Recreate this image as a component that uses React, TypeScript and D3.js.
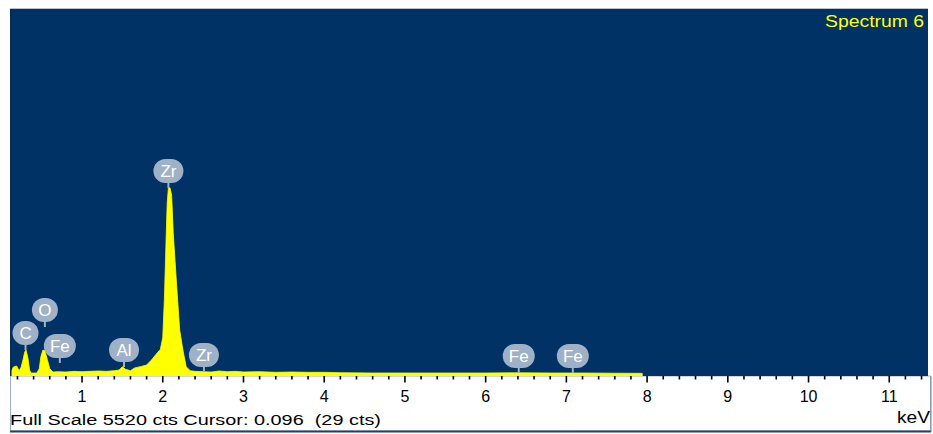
import React from "react";
import * as d3 from "d3";

// Spectrum: energy (keV) and counts
const energyKeV = [
  0.12, 0.15, 0.19, 0.22, 0.245, 0.27, 0.29, 0.306, 0.33, 0.35, 0.37, 0.44, 0.47, 0.49, 0.515, 0.54, 0.57, 0.6, 0.64,
  0.7, 0.8, 0.9, 1.0, 1.1, 1.2, 1.3, 1.4, 1.46, 1.5, 1.54, 1.6, 1.65, 1.72, 1.8, 1.86, 1.92, 1.97, 2.0, 2.02, 2.04,
  2.055, 2.07, 2.09, 2.11, 2.13, 2.17, 2.21, 2.25, 2.29, 2.34, 2.4, 2.5, 2.6, 2.7, 2.8, 2.9, 3.0, 3.2, 3.4, 3.6, 3.8,
  4.0, 4.2, 4.6, 5.0, 5.5, 6.0, 6.4, 6.8, 7.2, 7.6, 7.94,
];
const counts = [
  60, 135, 150, 80, 130, 250, 360, 390, 270, 90, 45, 45, 110, 290, 390, 380, 250, 110, 60,
  65, 60, 70, 65, 70, 75, 70, 80, 90, 140, 100, 80, 120, 140, 165, 240, 330, 400, 580, 1150, 2000,
  2600, 2830, 2830, 2720, 2150, 1400, 690, 390, 140, 80, 70, 65, 60, 75, 65, 70, 60, 65, 55, 60, 55,
  55, 50, 45, 45, 45, 45, 48, 45, 45, 42, 40,
];

// Element labels
const labelNames = ["C", "O", "Fe", "Al", "Zr", "Zr", "Fe", "Fe"];
const labelKeV = [0.3, 0.54, 0.725, 1.52, 2.07, 2.51, 6.41, 7.08];
const labelCounts = [391, 737, 196, 135, 2828, 60, 45, 45];

const xTicks = [1, 2, 3, 4, 5, 6, 7, 8, 9, 10, 11];
const fullScale = 5520;

export default function App() {
  const W = 933, H = 434;
  const left = 11, right = 928, top = 9, bottom = 376;
  const x = d3.scaleLinear().domain([0.12, 11.48]).range([left, right]);
  const y = d3.scaleLinear().domain([0, fullScale]).range([bottom, top]);

  const pts = energyKeV.map((e, i) => [e, counts[i]] as [number, number]);
  const area = d3
    .area<[number, number]>()
    .x((d) => x(d[0]))
    .y0(bottom)
    .y1((d) => y(d[1]))
    .curve(d3.curveLinear)(pts);

  const minor = d3.range(2, 115, 2).map((v) => v / 10);

  return (
    <svg width={W} height={H} style={{ position: "absolute", left: 0, top: 0 }}>
      <rect x={0} y={0} width={W} height={H} fill="#ffffff" />
      {/* axis panel border */}
      <rect x={10.5} y={bottom} width={920} height={55} fill="#ffffff" stroke="#9fb0c8" strokeWidth={1} />
      <line x1={10} x2={931} y1={431.5} y2={431.5} stroke="#1d3f73" strokeWidth={2} />
      <line x1={931} x2={931} y1={bottom} y2={432} stroke="#6f86a8" strokeWidth={1} />
      {/* plot */}
      <line x1={10} x2={right} y1={8.5} y2={8.5} stroke="#b8c3d2" strokeWidth={1} />
      <rect x={left - 1} y={top} width={right - left + 1} height={bottom - top} fill="#003266" />
      <clipPath id="plotclip">
        <rect x={left} y={top} width={right - left} height={bottom - top} />
      </clipPath>
      <path d={area || ""} fill="#ffff00" stroke="#ffff00" strokeWidth={0.8} clipPath="url(#plotclip)" />
      <line x1={left} x2={left} y1={top + 2} y2={bottom} stroke="#0f2440" strokeWidth={1} />

      {/* labels */}
      {labelNames.map((n, i) => {
        const cx = x(labelKeV[i]);
        const sy = y(labelCounts[i]);
        const cy = sy - 17;
        const w = n.length === 1 ? 26 : n === "Fe" ? 32 : 30;
        return (
          <g key={i}>
            <line x1={cx} x2={cx} y1={cy} y2={sy} stroke="#9fb1c6" strokeWidth={2} />
            <rect x={cx - w / 2} y={cy - 12} width={w} height={24} rx={12} ry={12} fill="#9fb1c6" />
            <text
              x={cx}
              y={cy + 6}
              textAnchor="middle"
              fontFamily="Liberation Sans, Arial, sans-serif"
              fontSize={17}
              fill="#ffffff"
            >
              {n}
            </text>
          </g>
        );
      })}

      <text
        x={924}
        y={27}
        textAnchor="end"
        fontFamily="Liberation Sans, Arial, sans-serif"
        fontSize={16}
        fill="#ffff00"
        textLength={99}
        lengthAdjust="spacingAndGlyphs"
      >
        Spectrum 6
      </text>

      {/* ticks */}
      {minor.map((v, i) => {
        const major = Math.abs(v - Math.round(v)) < 1e-6;
        return (
          <line
            key={i}
            x1={x(v)}
            x2={x(v)}
            y1={bottom}
            y2={bottom + (major ? 6.5 : 3.5)}
            stroke="#000000"
            strokeWidth={1.6}
          />
        );
      })}
      {xTicks.map((t) => (
        <text
          key={t}
          x={x(t)}
          y={402}
          textAnchor="middle"
          fontFamily="Liberation Sans, Arial, sans-serif"
          fontSize={16}
          fill="#000000"
        >
          {t}
        </text>
      ))}
      <text
        x={930}
        y={423}
        textAnchor="end"
        fontFamily="Liberation Sans, Arial, sans-serif"
        fontSize={16}
        fill="#000000"
        textLength={33}
        lengthAdjust="spacingAndGlyphs"
      >
        keV
      </text>
      <text
        x={10}
        y={425}
        fontFamily="Liberation Sans, Arial, sans-serif"
        fontSize={15.5}
        fill="#000000"
        textLength={371}
        lengthAdjust="spacingAndGlyphs"
        style={{ whiteSpace: "pre" }}
      >
        {"Full Scale 5520 cts Cursor: 0.096  (29 cts)"}
      </text>
    </svg>
  );
}
